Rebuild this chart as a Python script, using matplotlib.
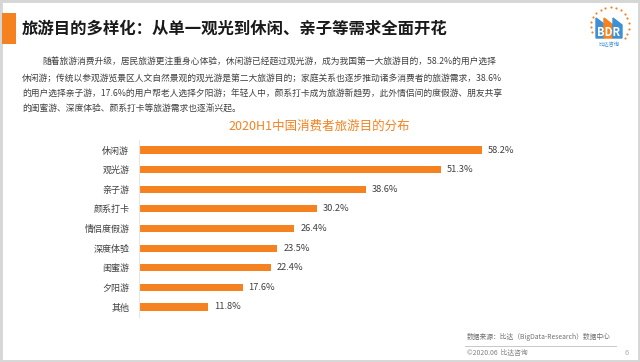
import matplotlib.pyplot as plt
import numpy as np
from matplotlib.patches import Rectangle, Polygon

plt.rcParams['font.family'] = ['Noto Sans CJK SC', 'DejaVu Sans']

# data
categories = ["休闲游", "观光游", "亲子游", "颜系打卡", "情侣度假游", "深度体验", "闺蜜游", "夕阳游", "其他"]
values = [58.2, 51.3, 38.6, 30.2, 26.4, 23.5, 22.4, 17.6, 11.8]

title = "旅游目的多样化：从单一观光到休闲、亲子等需求全面开花"
chart_title = "2020H1中国消费者旅游目的分布"
para_lines = [
    "随着旅游消费升级，居民旅游更注重身心体验，休闲游已经超过观光游，成为我国第一大旅游目的，58.2%的用户选择",
    "休闲游；传统以参观游览景区人文自然景观的观光游是第二大旅游目的；家庭关系也逐步推动诸多消费者的旅游需求，38.6%",
    "的用户选择亲子游，17.6%的用户帮老人选择夕阳游；年轻人中，颜系打卡成为旅游新趋势，此外情侣间的度假游、朋友共享",
    "的闺蜜游、深度体验、颜系打卡等旅游需求也逐渐兴起。",
]
source = "数据来源：比达（BigData-Research）数据中心"
copyright_txt = "©2020.06  比达咨询"

orange = "#F5821F"
dark = "#404040"
W, H = 640, 362

fig = plt.figure(figsize=(6.4, 3.62), dpi=100)

# helper for pixel coords (top-left origin)
def px(x, y):
    return x / W, 1 - y / H

# outer frame
fig.patches.append(Rectangle((0, 0), 1, 1, transform=fig.transFigure,
                             fill=False, edgecolor="#d6d6d6", linewidth=3.5))

# header
fig.patches.append(Rectangle(px(2, 44), 14 / W, 31 / H, transform=fig.transFigure,
                             facecolor=orange, edgecolor="none"))
fig.text(*px(22, 29), title, fontsize=11.8, fontweight="bold", color="#1a1a1a",
         ha="left", va="center")

# paragraph
line_y = [62, 78, 94, 109]
for i, (ln, yy) in enumerate(zip(para_lines, line_y)):
    x0 = 42 if i == 0 else 22
    fig.text(*px(x0, yy), ln, fontsize=6.3, color=dark, ha="left", va="center")

fig.text(*px(319, 126), chart_title, fontsize=9.0, color=orange, ha="center", va="center")

# bar chart
ax = fig.add_axes([139 / W, (H - 316.8) / H, 471 / W, 176.6 / H])
y = np.arange(len(categories))
ax.barh(y, values, height=0.36, color=orange)
for yi, v in zip(y, values):
    ax.text(v + 1.0, yi, f"{v}%", fontsize=6.7, color=dark, va="center", ha="left")
ax.set_xlim(0, 80)
ax.set_ylim(len(categories) - 0.5, -0.5)
ax.set_yticks(y)
ax.set_yticklabels(categories, fontsize=6.5, color=dark)
ax.tick_params(axis="y", length=0, pad=7)
ax.set_xticks([])
for s in ["top", "right", "bottom"]:
    ax.spines[s].set_visible(False)
ax.spines["left"].set_color("#e6e6e6")
ax.spines["left"].set_linewidth(0.8)
ax.patch.set_alpha(0)

# footer
fig.text(*px(467, 337), source, fontsize=4.9, color="#707070", ha="left", va="center")
fig.add_artist(plt.Line2D([465 / W, 616 / W], [1 - 346 / H, 1 - 346 / H],
                          color="#c8c8c8", linewidth=0.7))
fig.text(*px(467, 353), copyright_txt, fontsize=4.9, color="#808080", ha="left", va="center")
fig.text(*px(627, 353), "6", fontsize=5.5, color="#b0b0b0", ha="center", va="center")

# simple logo
lg = fig.add_axes([586 / W, 1 - 50 / H, 46 / W, 46 / H])
lg.set_xlim(0, 46)
lg.set_ylim(0, 46)
lg.axis("off")
ang = np.linspace(np.deg2rad(200), np.deg2rad(-40), 16)
lg.scatter(24 + 19 * np.cos(ang), 24 + 19 * np.sin(ang), s=2.5, color=orange, lw=0)
lg.add_patch(Polygon([[10, 12], [10, 32], [18, 26], [18, 12]], color="#3d8fd6"))
lg.add_patch(Polygon([[18, 12], [18, 32], [27, 25], [27, 12]], color=orange))
lg.add_patch(Polygon([[27, 12], [27, 32], [36, 25], [36, 12]], color="#3d8fd6"))
lg.text(23, 18, "BDR", fontsize=8, fontweight="bold", color="white", ha="center", va="center")
lg.text(23, 6, "比达咨询", fontsize=3.8, color="#3d8fd6", ha="center", va="center")

fig.savefig("out.png", dpi=100)
